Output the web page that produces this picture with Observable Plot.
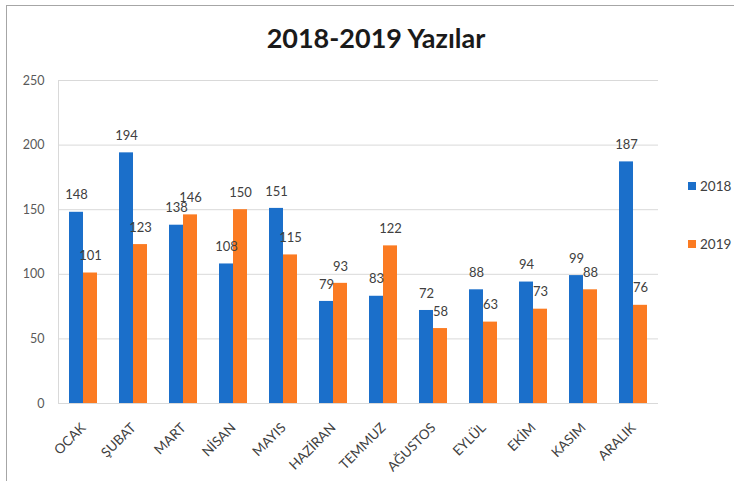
<!DOCTYPE html>
<html>
<head>
<meta charset="utf-8">
<script src="https://cdn.jsdelivr.net/npm/d3@7"></script>
<script src="https://cdn.jsdelivr.net/npm/@observablehq/plot@0.6"></script>
<style>
  body { margin: 0; background: #fff; font-family: Lato, "Open Sans", sans-serif; }
  #wrap { position: relative; width: 734px; height: 481px; overflow: hidden; background: #fff; }
  #frame { position: absolute; left: 6px; top: 5px; width: 740px; height: 490px; border-top: 1px solid #a6a6a6; border-left: 1px solid #a6a6a6; }
  #title { position: absolute; left: 0; width: 752px; top: 21px; text-align: center; font-weight: bold; font-size: 27px; color: #1a1a1a; }
  #chart { position: absolute; left: 0; top: 0; }
  #legend { position: absolute; left: 688px; top: 177px; }
  .leg { font-size: 13.5px; color: #404040; display: flex; align-items: center; gap: 4px; height: 18px; margin-bottom: 40px; }
  .sw { width: 8px; height: 8px; display: inline-block; }
</style>
</head>
<body>
<div id="wrap">
  <div id="frame"></div>
  <div id="chart"></div>
  <div id="title">2018-2019 Yazılar</div>
  <div id="legend"></div>
</div>
<script>
const months = ["OCAK","ŞUBAT","MART","NİSAN","MAYIS","HAZİRAN","TEMMUZ","AĞUSTOS","EYLÜL","EKİM","KASIM","ARALIK"];
const series = ["2018","2019"];
const values2018 = [148,194,138,108,151,79,83,72,88,94,99,187];
const values2019 = [101,123,146,150,115,93,122,58,63,73,88,76];
const colors = ["#1b6fca","#fb7b22"];
const yTicks = [0,50,100,150,200,250];

const data = [];
months.forEach((m, i) => {
  data.push({month: m, year: series[0], value: values2018[i]});
  data.push({month: m, year: series[1], value: values2019[i]});
});

const plot = Plot.plot({
  width: 734,
  height: 481,
  marginTop: 80,
  marginBottom: 78,
  marginLeft: 57,
  marginRight: 75,
  style: {fontFamily: "Lato, 'Open Sans', sans-serif", fontSize: "12px", color: "#404040", background: "transparent", overflow: "visible"},
  fx: {domain: months, padding: 0, label: null},
  x: {domain: series, paddingInner: 0, paddingOuter: 0.73, axis: null},
  y: {domain: [0, 250], ticks: yTicks, label: null},
  color: {domain: series, range: colors},
  marks: [
    Plot.gridY(yTicks, {stroke: "#d9d9d9", strokeOpacity: 1}),
    Plot.frame({anchor: "left", facetAnchor: "left", stroke: "#d9d9d9", strokeOpacity: 1}),
    Plot.axisY(yTicks, {tickSize: 0, tickPadding: 14, fontSize: 12.5, fill: "#595959", label: null}),
    Plot.axisFx({anchor: "bottom", tickRotate: -45, tickSize: 0, tickPadding: 22, fontSize: 13.5, fill: "#404040", label: null}),
    Plot.barY(data, {fx: "month", x: "year", y: "value", fill: "year"}),
    Plot.text(data, {fx: "month", x: "year", y: "value", text: "value", dy: -17, lineAnchor: "middle", fontSize: 13, fill: "#404040"})
  ]
});
document.getElementById("chart").appendChild(plot);

const legend = document.getElementById("legend");
series.forEach((s, i) => {
  const row = document.createElement("div");
  row.className = "leg";
  row.innerHTML = `<span class="sw" style="background:${colors[i]}"></span><span>${s}</span>`;
  legend.appendChild(row);
});
</script>
</body>
</html>
